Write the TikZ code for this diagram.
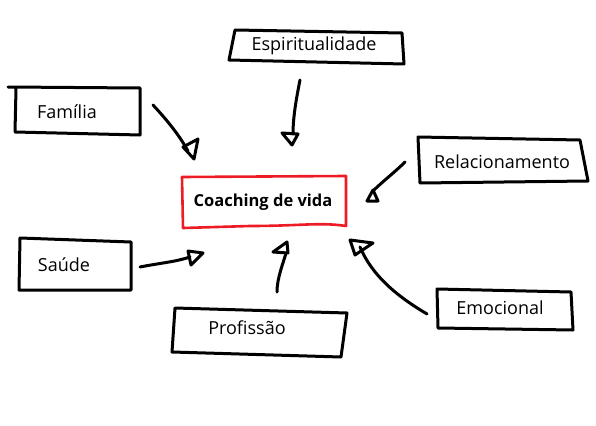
\documentclass[tikz,border=0pt]{standalone}
\usepackage{fontspec}
\setmainfont{Open Sans}
\definecolor{paintred}{RGB}{237,28,36}
\begin{document}
\begin{tikzpicture}[x=1pt,y=-1pt,
  box/.style={draw=black,line width=3pt,line join=round,line cap=round},
  cbox/.style={draw=paintred,line width=2.6pt,line join=round,line cap=round},
  lbl/.style={inner sep=0pt,font=\fontsize{18}{20}\selectfont},
  clbl/.style={inner sep=0pt,font=\bfseries\fontsize{16.5}{19}\selectfont},
  conn/.style={draw=black,line width=3pt,line cap=round},
  head/.style={draw=black,line width=3pt,line join=round}]
\useasboundingbox (0,0) rectangle (596,425);
% centre box
\draw[cbox] (182,177) -- (346,176) -- (346,226) .. controls (320,222) and (300,226) .. (250,226) -- (183,228) -- cycle;
\node[clbl] (coach) at (263,202) {Coaching de vida};
% Familia
\draw[box] (8,87) -- (140,88) -- (140,135) -- (15,132) -- (16,89);
\node[lbl] (fam) at (67,112) {Família};
% Espiritualidade
\draw[box] (235,30) -- (402,33) -- (404,64) -- (229,60) -- cycle;
\node[lbl] (esp) at (314,46) {Espiritualidade};
% Relacionamento
\draw[box] (418,137) -- (580,140) -- (588,181) -- (420,183) -- cycle;
\node[lbl] (rel) at (502,162) {Relacionamento};
% Saude
\draw[box] (20,238) -- (131,242) -- (131,290) -- (19,290) -- cycle;
\node[lbl] (sau) at (64,265) {Saúde};
% Profissao
\draw[box] (175,308) -- (347,313) -- (341,357) -- (172,352) -- cycle;
\node[lbl] (pro) at (247,328) {Profissão};
% Emocional
\draw[box] (437,289) -- (571,292) -- (573,330) -- (438,328) -- cycle;
\node[lbl] (emo) at (500,308) {Emocional};
% connector anchors
\coordinate (famS) at (153,105);
\coordinate (famE) at (188,151);
\coordinate (espS) at (300,80);
\coordinate (espE) at (293,134);
\coordinate (relS) at (405,162);
\coordinate (relE) at (373,191);
\coordinate (sauS) at (140,267);
\coordinate (sauE) at (190,257);
\coordinate (proS) at (277,292);
\coordinate (proE) at (286,253);
\coordinate (emoS) at (427,314);
\coordinate (emoE) at (360,247);
% connectors
\draw[conn] (famS) .. controls (165,118) and (178,133) .. (famE);
\draw[conn] (espS) .. controls (296,100) and (293,118) .. (espE);
\draw[conn] (relS) .. controls (395,172) and (382,182) .. (relE);
\draw[conn] (sauS) .. controls (160,263) and (175,262) .. (sauE);
\draw[conn] (proS) .. controls (277,278) and (283,264) .. (proE);
\draw[conn] (emoS) .. controls (395,295) and (372,275) .. (emoE);
% arrowheads
\draw[head] (183,147) -- (198,139) -- (194,159) -- cycle;
\draw[head] (282,133) -- (298,134) -- (292,145) -- cycle;
\draw[head] (367,201) -- (373,190) -- (378,201) -- cycle;
\draw[head] (188,251) -- (203,253) -- (191,265) -- cycle;
\draw[head] (273,252) -- (287,242) -- (288,253) -- cycle;
\draw[head] (350,240) -- (373,243) -- (355,255) -- cycle;
\end{tikzpicture}
\end{document}
